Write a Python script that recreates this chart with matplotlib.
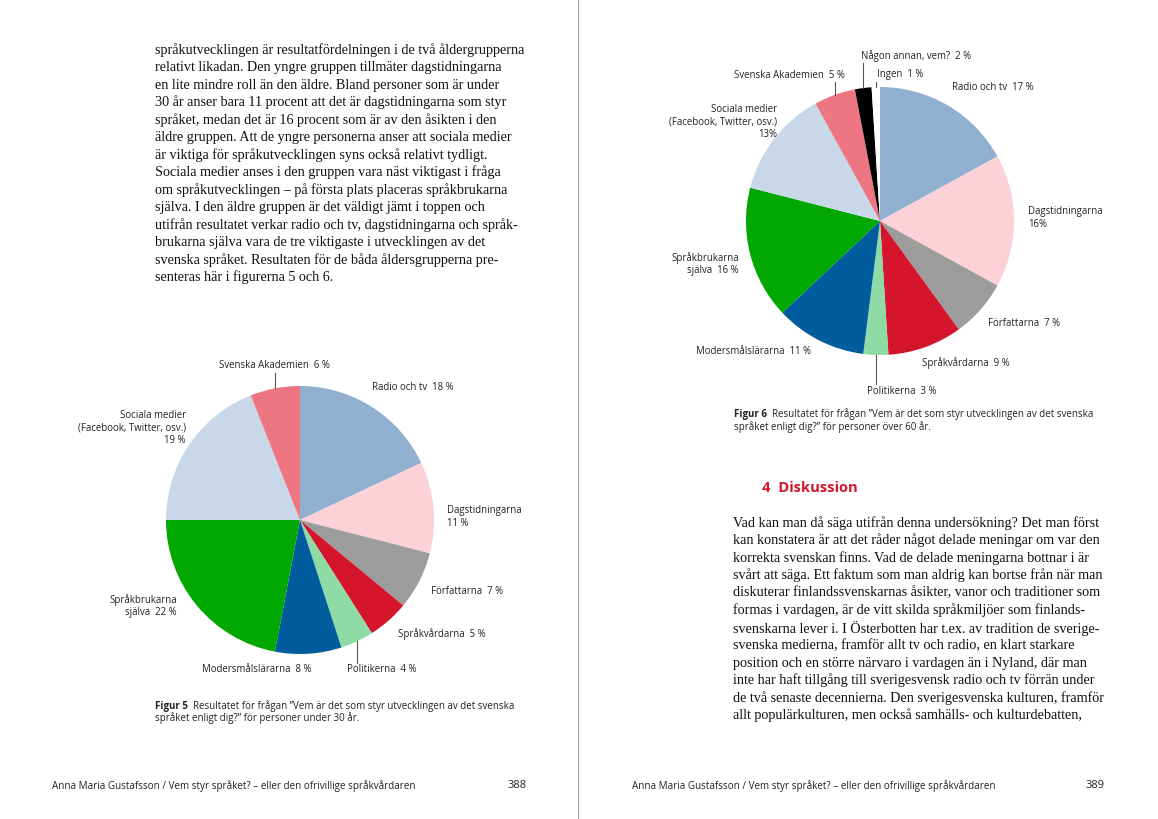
import matplotlib
matplotlib.use("Agg")
import matplotlib.pyplot as plt
import numpy as np

# --- data ---------------------------------------------------------------
namn_under30 = ["Radio och tv", "Dagstidningarna", "Författarna", "Språkvårdarna",
                "Politikerna", "Modersmålslärarna", "Språkbrukarna\nsjälva",
                "Sociala medier\n(Facebook, Twitter, osv.)", "Svenska Akademien"]
procent_under30 = [18, 11, 7, 5, 4, 8, 22, 19, 6]

namn_over60 = ["Radio och tv", "Dagstidningarna", "Författarna", "Språkvårdarna",
               "Politikerna", "Modersmålslärarna", "Språkbrukarna\nsjälva",
               "Sociala medier\n(Facebook, Twitter, osv.)", "Svenska Akademien",
               "Någon annan, vem?", "Ingen"]
procent_over60 = [17, 16, 7, 9, 3, 11, 16, 13, 5, 2, 1]

farger = ["#91AFCF", "#FCD1D8", "#9C9C9C", "#D5152C", "#8EDBA6", "#005C9C",
          "#00A800", "#C8D8E8", "#EE7683", "#000000", "#FFFFFF"]

text_vanster = [
    "språkutvecklingen är resultatfördelningen i de två åldergrupperna",
    "relativt likadan. Den yngre gruppen tillmäter dagstidningarna",
    "en lite mindre roll än den äldre. Bland personer som är under",
    "30 år anser bara 11 procent att det är dagstidningarna som styr",
    "språket, medan det är 16 procent som är av den åsikten i den",
    "äldre gruppen. Att de yngre personerna anser att sociala medier",
    "är viktiga för språkutvecklingen syns också relativt tydligt.",
    "Sociala medier anses i den gruppen vara näst viktigast i fråga",
    "om språkutvecklingen – på första plats placeras språkbrukarna",
    "själva. I den äldre gruppen är det väldigt jämt i toppen och",
    "utifrån resultatet verkar radio och tv, dagstidningarna och språk-",
    "brukarna själva vara de tre viktigaste i utvecklingen av det",
    "svenska språket. Resultaten för de båda åldersgrupperna pre-",
    "senteras här i figurerna 5 och 6.",
]

text_hoger = [
    "Vad kan man då säga utifrån denna undersökning? Det man först",
    "kan konstatera är att det råder något delade meningar om var den",
    "korrekta svenskan finns. Vad de delade meningarna bottnar i är",
    "svårt att säga. Ett faktum som man aldrig kan bortse från när man",
    "diskuterar finlandssvenskarnas åsikter, vanor och traditioner som",
    "formas i vardagen, är de vitt skilda språkmiljöer som finlands-",
    "svenskarna lever i. I Österbotten har t.ex. av tradition de sverige-",
    "svenska medierna, framför allt tv och radio, en klart starkare",
    "position och en större närvaro i vardagen än i Nyland, där man",
    "inte har haft tillgång till sverigesvensk radio och tv förrän under",
    "de två senaste decennierna. Den sverigesvenska kulturen, framför",
    "allt populärkulturen, men också samhälls- och kulturdebatten,",
]

# label placement (page pixels, top-down): x, y, ha, separator before value
etiketter_under30 = [(372, 388, "left", "  "), (447, 517, "left", "\n"),
                     (431, 592, "left", "  "), (398, 634, "left", "  "),
                     (347, 670, "left", "  "), (311, 670, "right", "  "),
                     (177, 606, "right", "  "), (186, 428, "right", "\n"),
                     (274, 366, "center", "  ")]
etiketter_over60 = [(952, 88, "left", "  "), (1028, 218, "left", "\n"),
                    (988, 324, "left", "  "), (922, 363, "left", "  "),
                    (867, 391, "left", "  "), (811, 351, "right", "  "),
                    (739, 264, "right", "  "), (777, 122, "right", "\n"),
                    (845, 75, "right", "  "), (861, 56, "left", "  "),
                    (877, 75, "left", "  ")]

W, H = 1158, 819
SERIF = "Liberation Serif"
SANS = "Open Sans"
ETIKETT = 6.9


def Y(py):
    return H - py


def rita_paj(ax, varden, namn, etiketter, center, radie, ledare):
    wedges, _ = ax.pie(varden, colors=farger[:len(varden)], startangle=90,
                       counterclock=False, center=(center[0], Y(center[1])),
                       radius=radie, frame=True,
                       wedgeprops=dict(linewidth=0))
    for i, (n, v) in enumerate(zip(namn, varden)):
        x, y, ha, sep = etiketter[i]
        suffix = "%" if (sep == "\n" and len(varden) == 11) else " %"
        ax.text(x, Y(y), f"{n}{sep}{v}{suffix}", ha=ha, va="center",
                multialignment=ha, fontsize=ETIKETT, family=SANS,
                color="#222222", linespacing=1.2)
    # leader lines from the wedge rim to the label
    for i in ledare:
        w = wedges[i]
        vinkel = np.deg2rad((w.theta1 + w.theta2) / 2)
        x0 = w.center[0] + w.r * np.cos(vinkel)
        y0 = w.center[1] + w.r * np.sin(vinkel)
        ly = Y(etiketter[i][1])
        y1 = ly - 7 if ly > y0 else ly + 7
        ax.plot([x0, x0], [y0, y1], color="#555555", lw=0.8)


fig = plt.figure(figsize=(W / 100, H / 100), dpi=100)
ax = fig.add_axes([0, 0, 1, 1])

rita_paj(ax, procent_under30, namn_under30, etiketter_under30, (300, 520), 134, [8, 4])
rita_paj(ax, procent_over60, namn_over60, etiketter_over60, (880, 221), 134, [8, 9, 10, 4])

ax.set_xlim(0, W)
ax.set_ylim(0, H)
ax.set_aspect("equal")
ax.axis("off")

# page divider
ax.plot([578, 578], [0, H], color="#A0A0A0", lw=0.8)

# body text
for i, rad in enumerate(text_vanster):
    ax.text(155, Y(50 + i * 17.5), rad, ha="left", va="center",
            fontsize=10.2, family=SERIF, color="#111111")
for i, rad in enumerate(text_hoger):
    ax.text(733, Y(523 + i * 17.5), rad, ha="left", va="center",
            fontsize=10.2, family=SERIF, color="#111111")

# heading
ax.text(762, Y(488), "4  Diskussion", ha="left", va="center", fontsize=10.6,
        family=SANS, weight="bold", color="#D5152C")

# captions
def bildtext(x, y, figur, rad1, rad2):
    t = ax.text(x, Y(y), figur, ha="left", va="center", fontsize=7.0,
                family=SANS, weight="bold", color="#222222")
    ax.annotate(rad1, xy=(1, 0), xycoords=t, ha="left", va="bottom",
                fontsize=7.0, family=SANS, color="#222222")
    ax.text(x, Y(y + 12), rad2, ha="left", va="center", fontsize=7.0,
            family=SANS, color="#222222")

bildtext(155, 706, "Figur 5",
         "  Resultatet för frågan ”Vem är det som styr utvecklingen av det svenska",
         "språket enligt dig?” för personer under 30 år.")
bildtext(734, 415, "Figur 6",
         "  Resultatet för frågan ”Vem är det som styr utvecklingen av det svenska",
         "språket enligt dig?” för personer över 60 år.")

# footers
fot = "Anna Maria Gustafsson / Vem styr språket? – eller den ofrivillige språkvårdaren"
ax.text(52, Y(786), fot, ha="left", va="center", fontsize=7.1, family=SANS, color="#222222")
ax.text(527, Y(786), "388", ha="right", va="center", fontsize=8, family=SANS, color="#222222")
ax.text(632, Y(786), fot, ha="left", va="center", fontsize=7.1, family=SANS, color="#222222")
ax.text(1105, Y(786), "389", ha="right", va="center", fontsize=8, family=SANS, color="#222222")

fig.savefig("out.png", dpi=100)
